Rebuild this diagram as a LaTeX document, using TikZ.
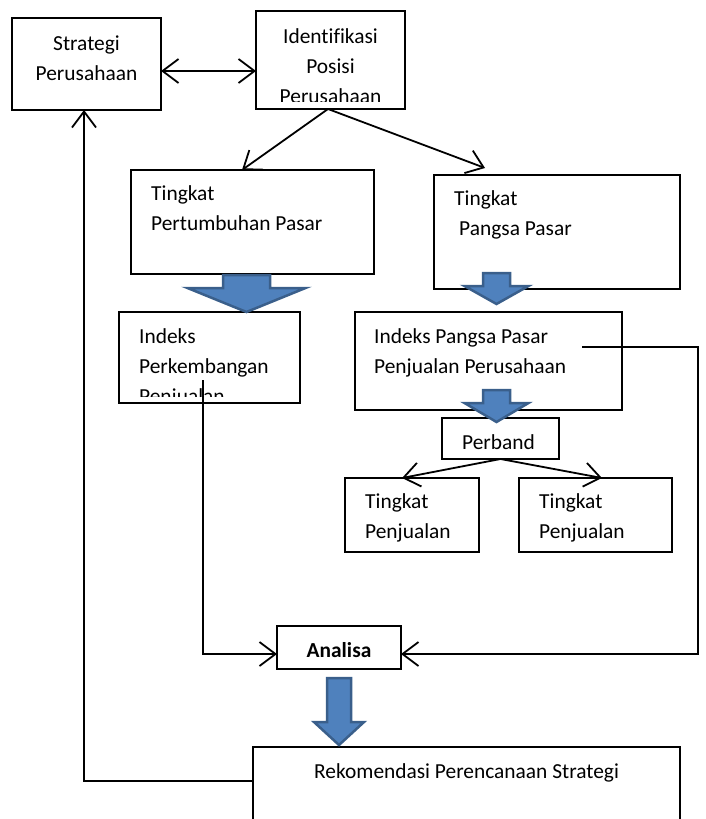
\documentclass[tikz,border=0pt]{standalone}
\usepackage{fontspec}
\setmainfont{Carlito}[Ligatures=NoCommon]
\usepackage{tikz}
\usetikzlibrary{arrows.meta}
\definecolor{blockfill}{HTML}{4F81BD}
\definecolor{blockline}{HTML}{3A5F8B}
\tikzset{box/.style={draw, line width=1.4pt, inner sep=0pt, outer sep=0pt}, txt/.style={inner sep=0pt, font=\fontsize{21.4}{30}\selectfont}, conn/.style={line width=1.8pt, >={Straight Barb[length=16pt,width=24pt]}}}

\begin{document}
\begin{tikzpicture}[x=1pt, y=-1pt]
    \useasboundingbox (0,0) rectangle (705,819);
    % boxes
    \node [box, minimum width=149pt, minimum height=92pt] (strat) at (86.5,64) {};
    \node [box, minimum width=149pt, minimum height=98pt] (ident) at (330.5,60) {};
    \node [box, minimum width=243pt, minimum height=104pt] (tpp) at (252.5,222) {};
    \node [box, minimum width=246pt, minimum height=114pt] (tps) at (557,232) {};
    \node [box, minimum width=181pt, minimum height=91pt] (ipk) at (209.5,357.5) {};
    \node [box, minimum width=267pt, minimum height=98pt] (ipp) at (488.5,361) {};
    \node [box, minimum width=117pt, minimum height=41pt] (perband) at (500.5,438.5) {};
    \node [box, minimum width=134pt, minimum height=74pt] (tpj1) at (412,515) {};
    \node [box, minimum width=153pt, minimum height=74pt] (tpj2) at (595.5,515) {};
    \node [box, minimum width=124pt, minimum height=43pt] (analisa) at (339,647.5) {};
    \node [box, minimum width=427pt, minimum height=88pt] (rekom) at (466.5,791) {};
    % texts (base = last line)
    \node [txt, anchor=base, align=center] (strat-t) at (86.5,80) {Strategi\\Perusahaan};
    \begin{scope}
      \clip (ident.north west) rectangle ([shift={(0,-7.5)}]ident.south east);
      \node [txt, anchor=base, align=center] (ident-t) at (330.5,103) {Identifikasi\\Posisi\\Perusahaan};
    \end{scope}
    \node [txt, anchor=base west, align=left] (tpp-t) at (151,230) {Tingkat\\Pertumbuhan Pasar};
    \node [txt, anchor=base west, align=left] (tps-t) at (454,235) {Tingkat\\\hspace*{5pt}Pangsa Pasar};
    \begin{scope}
      \clip (ipk.north west) rectangle ([shift={(0,-7)}]ipk.south east);
      \node [txt, anchor=base west, align=left] (ipk-t) at (139,403) {Indeks\\Perkembangan\\Penjualan};
    \end{scope}
    \node [txt, anchor=base west, align=left] (ipp-t) at (374,373) {Indeks Pangsa Pasar\\Penjualan Perusahaan};
    \node [txt, anchor=base west] (perband-t) at (462,449) {Perband};
    \node [txt, anchor=base west, align=left] (tpj1-t) at (365,538) {Tingkat\\Penjualan};
    \node [txt, anchor=base west, align=left] (tpj2-t) at (539,538) {Tingkat\\Penjualan};
    \node [txt, anchor=base, font=\fontsize{21.4}{30}\selectfont\bfseries] (analisa-t) at (339,657) {Analisa};
    \node [txt, anchor=base west] (rekom-t) at (314,778) {Rekomendasi Perencanaan Strategi};
    % connectors
    \draw [conn, <->] ([shift={(0,7)}]strat.east) -- ([shift={(0,11)}]ident.west);
    \draw [conn, ->] ([shift={(-2.5,0)}]ident.south) -- ([shift={(-10.5,0)}]tpp.north);
    \draw [conn, ->] ([shift={(-2.5,0)}]ident.south) -- ([shift={(-72,-7)}]tps.north);
    \draw [conn, ->] (perband.south) -- ([shift={(-10,0)}]tpj1.north);
    \draw [conn, ->] (perband.south) -- ([shift={(6.5,0)}]tpj2.north);
    \draw [conn, ->] ([shift={(-6.5,-23)}]ipk.south) |- ([shift={(0,6.5)}]analisa.west);
    \draw [conn, ->] ([shift={(-40,35)}]ipp.north east) -- ++(116,0) |- ([shift={(0,6.5)}]analisa.east);
    \draw [conn, ->] ([shift={(0,-10)}]rekom.west) -| ([shift={(-2.5,0)}]strat.south);
    % block arrows
    \foreach \cx/\s/\h/\yt/\yh/\ytip in {246.5/23.5/59/275/288/312, 496.5/13.5/32/273/286/304, 496.5/13.5/32/390/403/422, 339/12/25/678/722/745} {
      \draw [fill=blockfill, draw=blockline, line width=2.5pt, line join=miter]
        (\cx-\s,\yt) -- (\cx+\s,\yt) -- (\cx+\s,\yh) -- (\cx+\h,\yh) -- (\cx,\ytip)
        -- (\cx-\h,\yh) -- (\cx-\s,\yh) -- cycle;
    }
\end{tikzpicture}
\end{document}
